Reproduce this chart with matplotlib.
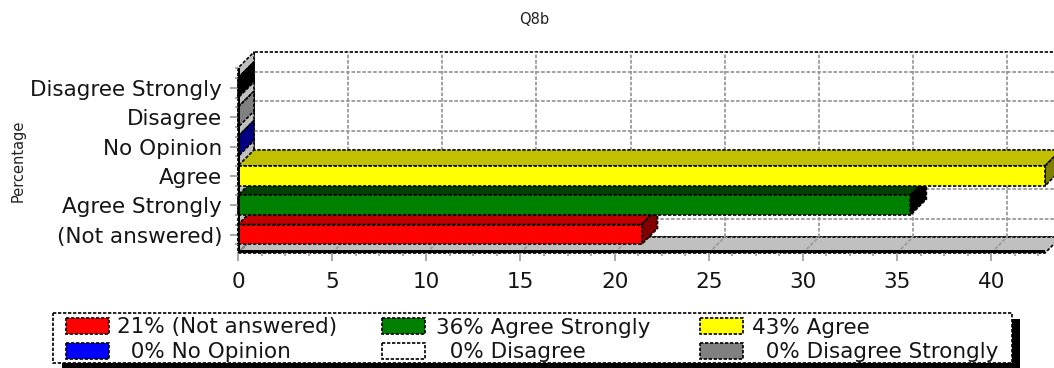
import matplotlib
matplotlib.use('Agg')
from matplotlib import pyplot as plt
from matplotlib.patches import Polygon, Rectangle
from matplotlib.ticker import AutoMinorLocator, MultipleLocator
from matplotlib.transforms import Affine2D, IdentityTransform

categories = ['(Not answered)', 'Agree Strongly', 'Agree', 'No Opinion', 'Disagree', 'Disagree Strongly']
percent = [21.43, 35.71, 42.86, 0, 0, 0]

front_col = ['#ff0000', '#008000', '#ffff00', '#0000ff', '#ffffff', '#808080']
top_col = ['#c00000', '#004000', '#c0c000', '#0000c0', '#c0c0c0', '#404040']
side_col = ['#800000', '#000000', '#808000', '#000080', '#808080', '#000000']

W, H = 1054, 368
DEPTH = 16
DASH = (0, (2, 1))
GREY = '#9a9a9a'
SILVER = '#c0c0c0'
TEXT = '#151515'
FS = 15.5

plt.rcParams['font.family'] = 'DejaVu Sans'
fig = plt.figure(figsize=(W / 100, H / 100), dpi=100, facecolor='w')
ax = fig.add_axes([238 / W, (H - 253) / H, (1045 - 238) / W, (253 - 68) / H])
ax.patch.set_visible(False)
for s in ax.spines.values():
    s.set_visible(False)

xmax = max(percent)
ymin, ymax = -0.63, 5.68
ax.set_xlim(0, xmax)
ax.set_ylim(ymin, ymax)

ax.set_yticks(range(len(categories)), categories, fontsize=FS, color=TEXT)
ax.xaxis.set_major_locator(MultipleLocator(5))
ax.xaxis.set_minor_locator(AutoMinorLocator(4))
ax.yaxis.set_minor_locator(AutoMinorLocator(3))
ax.tick_params(axis='x', which='major', length=5.5, width=1.2, color=GREY, pad=8.5, labelsize=FS, labelcolor=TEXT)
ax.tick_params(axis='y', which='major', length=5.5, width=1.2, color=GREY, pad=6, labelcolor=TEXT)
ax.tick_params(which='minor', length=2.5, width=1.2, color=GREY)


def pt(x, y, d=0):
    # data position pushed back along the 3d depth direction, in display pixels
    px, py = ax.transData.transform((x, y))
    return (px + d * DEPTH, py + d * DEPTH)


def face(points, color, z, edge='k', lw=1.2):
    ax.add_patch(Polygon(points, closed=True, facecolor=color, edgecolor=edge, linewidth=lw,
                         linestyle=DASH, joinstyle='miter', capstyle='butt',
                         transform=IdentityTransform(), clip_on=False, zorder=z))


def line(p0, p1, z=2, color=GREY, lw=1.3):
    ax.plot([p0[0], p1[0]], [p0[1], p1[1]], color=color, lw=lw, ls=DASH, dash_capstyle='butt',
            transform=IdentityTransform(), clip_on=False, zorder=z)


# walls and floor
face([pt(0, ymin, 1), pt(xmax, ymin, 1), pt(xmax, ymax, 1), pt(0, ymax, 1)], 'w', 1)
face([pt(0, ymin), pt(0, ymin, 1), pt(0, ymax, 1), pt(0, ymax)], SILVER, 1.5)
face([pt(0, ymin), pt(xmax, ymin), pt(xmax, ymin, 1), pt(0, ymin, 1)], SILVER, 1.5)

# grid on the back wall, carried over the floor
for t in range(0, 45, 5):
    if t <= xmax:
        line(pt(t, ymin, 1), pt(t, ymax, 1), z=0.9 if t == 0 else 2)
        line(pt(t, ymin), pt(t, ymin, 1))
for i in range(len(categories)):
    line(pt(0, i, 1), pt(xmax, i, 1))

# bars, lowest first so the one above overlaps its top face
half = 0.34
for i, v in enumerate(percent):
    z = 3 + i * 0.1
    top, bot = i + half, i - half
    face([pt(0, top), pt(v, top), pt(v, top, 1), pt(0, top, 1)], top_col[i], z)
    face([pt(v, bot), pt(v, top), pt(v, top, 1), pt(v, bot, 1)], side_col[i], z)
    if v > 0:
        face([pt(0, bot), pt(v, bot), pt(v, top), pt(0, top)], front_col[i], z + 0.05)

# heavy black edges of the floor and left wall
x_l, y_b = pt(0, ymin)
x_r, _ = pt(xmax, ymin)
_, y_t = pt(0, ymax)
ax.add_patch(Rectangle((x_l, y_b), x_r - x_l, 3, facecolor='k', edgecolor='none',
                       transform=IdentityTransform(), clip_on=False, zorder=4))
ax.add_patch(Rectangle((x_l, y_b), 2, y_t - y_b, facecolor='k', edgecolor='none',
                       transform=IdentityTransform(), clip_on=False, zorder=4))

# everything below is placed in pixels from the top left
px = Affine2D().scale(1, -1).translate(0, H)

fig.text(534, 20, 'Q8b', transform=px, fontsize=10.5, ha='center', va='center', color='#222222')
fig.text(18, 161, 'Percentage', transform=px, fontsize=10.5, rotation=90, ha='center', va='center', color='#222222')

# legend box with its drop shadow
fig.add_artist(Rectangle((62, 319), 958, 49, facecolor='k', edgecolor='none', transform=px, zorder=1))
fig.add_artist(Rectangle((53, 313), 959, 50, facecolor='w', edgecolor='k', lw=1.2, ls=DASH,
                         joinstyle='miter', capstyle='butt', transform=px, zorder=2))

swatch_x = [66, 382, 700]
text_x = [117, 436, 752]
row_y = [318, 343]
for i, name in enumerate(categories):
    col = i % 3
    row = i // 3
    pct = round(percent[i])
    pad = '' if pct >= 10 else '  '
    fig.add_artist(Rectangle((swatch_x[col], row_y[row]), 43, 16, facecolor=front_col[i], edgecolor='k',
                             lw=1.2, ls=DASH, joinstyle='miter', capstyle='butt', transform=px, zorder=3))
    fig.text(text_x[col], row_y[row] + 9.5, f'{pad}{pct}% {name}', transform=px, fontsize=FS,
             ha='left', va='center', color=TEXT, zorder=3)

fig.savefig('out.png', dpi=100)
